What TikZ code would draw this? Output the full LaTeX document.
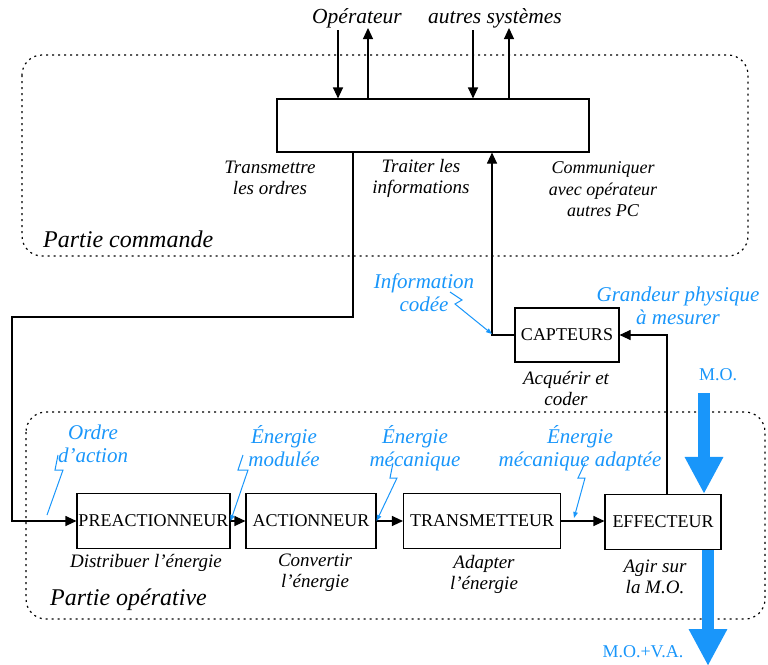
\documentclass[tikz,border=0pt]{standalone}
\usepackage{fontspec}
\setmainfont{Liberation Serif}
\usepackage{tikz}
\usetikzlibrary{arrows.meta}
\definecolor{flowblue}{RGB}{25, 150, 250}

\begin{document}
\begin{tikzpicture}[x=1pt,y=-1pt,
    bloc/.style={draw,line width=1.1pt,minimum height=55pt,inner sep=0pt,font=\fontsize{18}{21}\selectfont},
    lbl/.style={align=center,font=\fontsize{19}{21}\selectfont\itshape},
    blbl/.style={align=center,text=flowblue,font=\fontsize{21}{23}\selectfont\itshape},
    fleche/.style={line width=1.1pt,-{Triangle[length=11pt,width=10pt]}},
    eclair/.style={flowblue,line width=1pt,-{Triangle[length=6pt,width=4.5pt]}},
    flux/.style={flowblue,line width=12pt,-{Triangle[length=37pt,width=36pt]}},
    zone/.style={line width=1.2pt,dash pattern=on 2pt off 4pt,rounded corners=20pt}]
            \useasboundingbox (0,0) rectangle (768,664);

            % zones
            \draw[zone] (22,55) rectangle (748,256);
            \draw[zone] (26,412) rectangle (765,619);
            \node[anchor=base west,inner sep=0pt,font=\fontsize{24}{27}\selectfont\itshape] (pcmd) at (43,247) {Partie commande};
            \node[anchor=base west,inner sep=0pt,font=\fontsize{24}{27}\selectfont\itshape] (pop) at (50,605) {Partie opérative};

            % partie commande
            \node[bloc,minimum width=312pt,minimum height=53pt] (pc) at (433,125.5) {};
            \node[lbl,font=\fontsize{21.5}{24}\selectfont\itshape] (op) at (357,18) {Opérateur};
            \node[lbl,font=\fontsize{21.5}{24}\selectfont\itshape] (as) at (495,18) {autres systèmes};
            \node[lbl] (transm) at (270,178) {Transmettre\\les ordres};
            \node[lbl] (trait) at (421,178) {Traiter les\\informations};
            \node[lbl,font=\fontsize{18}{21.5}\selectfont\itshape] (comm) at (603,189.5) {Communiquer\\avec opérateur\\autres PC};

            \coordinate (opin) at (338,30);
            \coordinate (opout) at (368,28);
            \coordinate (asin) at (473,30);
            \coordinate (asout) at (509,28);
            \draw[fleche] (opin) -- (opin |- pc.north);
            \draw[fleche] (opout |- pc.north) -- (opout);
            \draw[fleche] (asin) -- (asin |- pc.north);
            \draw[fleche] (asout |- pc.north) -- (asout);

            % capteurs
            \node[bloc,minimum width=104pt,minimum height=54pt] (capt) at (567,335) {CAPTEURS};
            \node[lbl] (acq) at (566,388) {Acquérir et\\coder};

            % partie operative
            \node[bloc,minimum width=153pt] (pre) at (153.5,521) {PREACTIONNEUR};
            \node[bloc,minimum width=130pt] (act) at (311,521) {ACTIONNEUR};
            \node[bloc,minimum width=157pt] (trans) at (482,521) {TRANSMETTEUR};
            \node[bloc,minimum width=116pt] (eff) at (663,522) {EFFECTEUR};

            \node[lbl] (distr) at (146,563) {Distribuer l’énergie};
            \node[lbl] (conv) at (315,572.5) {Convertir\\l’énergie};
            \node[lbl] (adapt) at (484,574) {Adapter\\l’énergie};
            \node[lbl] (agir) at (655,577) {Agir sur\\la M.O.};

            \draw[fleche] (pre.east) -- (act.west);
            \draw[fleche] (act.east) -- (trans.west);
            \draw[fleche] (trans.east) -- (eff.west |- trans.east);

            % liaisons PC / PO
            \coordinate (k1) at (353,317);
            \coordinate (k2) at (12,317);
            \coordinate (k3) at (492,334);
            \coordinate (k4) at (667,335);
            \draw[fleche] (pc.south -| k1) -- (k1) -- (k2) |- (pre.west);
            \draw[fleche] (capt.west) -| (pc.south -| k3);
            \draw[fleche] (eff.north -| k4) |- (capt.east);

            % matiere d'oeuvre
            \coordinate (moin) at (704,393);
            \coordinate (moout) at (708,666);
            \draw[flux] (moin) -- (eff.north -| moin);
            \draw[flux] (eff.south -| moout) -- (moout);
            \node[text=flowblue,font=\fontsize{18}{20}\selectfont] (mo) at (718,375) {M.O.};
            \node[text=flowblue,font=\fontsize{18}{20}\selectfont] (mova) at (643,652) {M.O.+V.A.};

            % informations et energies
            \node[blbl] (info) at (424,293) {Information\\codée};
            \node[blbl] (grand) at (678,306) {Grandeur physique\\à mesurer};
            \node[blbl] (ordre) at (93,444) {Ordre\\d’action};
            \node[blbl] (emod) at (284,446.5) {Énergie\\modulée};
            \node[blbl] (emeca) at (415,448.5) {Énergie\\mécanique};
            \node[blbl] (eadap) at (580,448.5) {Énergie\\mécanique adaptée};

            \coordinate (z1) at (450,292);
            \coordinate (z2) at (58,455);
            \coordinate (z3) at (243,455);
            \coordinate (z4) at (393,463);
            \coordinate (z5) at (585,463);
            \draw[eclair] (z1) -- ++(12,8) -- ++(-7,4) -- (k3);
            \draw[eclair,-] (z2) -- ++(-3,15) -- ++(8,0) -- ++(-16,45);
            \draw[eclair] (z3) -- ++(-5,15) -- ++(10,0) -- (pre.east);
            \draw[eclair] (z4) -- ++(-3,15) -- ++(7,0) -- (act.east);
            \draw[eclair] (z5) -- ++(-7,15) -- ++(7,0) -- ++(-11,40);
\end{tikzpicture}
\end{document}
